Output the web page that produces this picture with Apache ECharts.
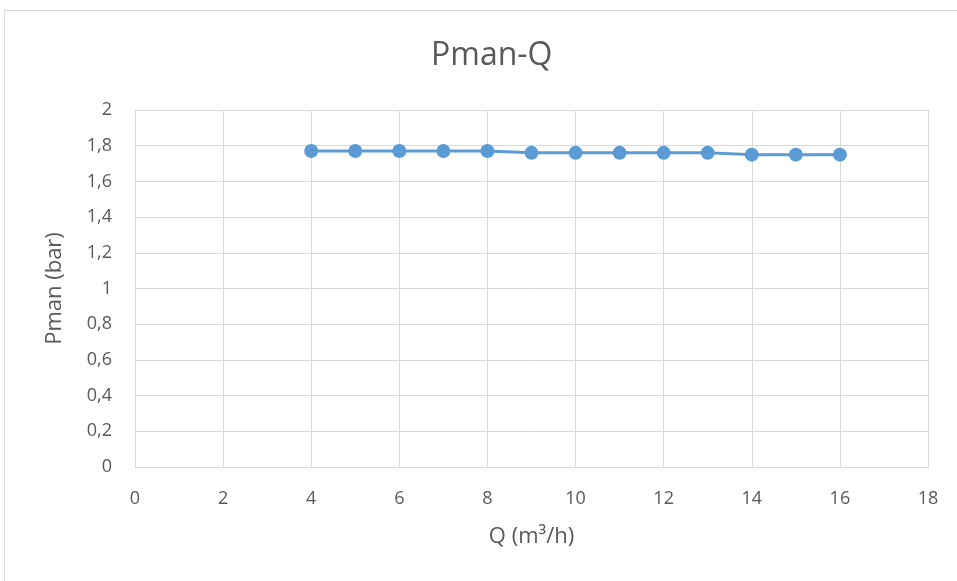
<!DOCTYPE html>
<html>
<head>
<meta charset="utf-8">
<script src="https://cdn.jsdelivr.net/npm/echarts@6/dist/echarts.min.js"></script>
<style>
  html, body { margin: 0; padding: 0; background: #fff; }
  #chart { width: 957px; height: 581px; }
</style>
</head>
<body>
<div id="chart"></div>
<script>
// Flow rate Q (m³/h) and manometric pressure (bar)
const flowQ = [4, 5, 6, 7, 8, 9, 10, 11, 12, 13, 14, 15, 16];
const pman = [1.77, 1.77, 1.77, 1.77, 1.77, 1.76, 1.76, 1.76, 1.76, 1.76, 1.75, 1.75, 1.75];

const titleText = 'Pman-Q';
const xAxisTitle = 'Q (m³/h)';
const yAxisTitle = 'Pman (bar)';

const font = '"Open Sans", "Liberation Sans", sans-serif';
const textColor = '#595959';
const gridColor = '#d9d9d9';

const chart = echarts.init(document.getElementById('chart'), null, { renderer: 'canvas' });

const commaFmt = v => String(v).replace('.', ',');

chart.setOption({
  animation: false,
  backgroundColor: '#fff',
  title: {
    text: titleText,
    left: 426,
    top: 35,
    textStyle: { fontFamily: font, fontSize: 32, fontWeight: 'normal', color: textColor }
  },
  graphic: [{
    type: 'rect',
    shape: { x: 4.5, y: 10.5, width: 1000, height: 1000 },
    style: { fill: 'none', stroke: gridColor, lineWidth: 1 },
    silent: true
  }],
  grid: { left: 135, right: 29, top: 110, bottom: 114 },
  xAxis: {
    type: 'value',
    min: 0, max: 18, interval: 2,
    name: xAxisTitle,
    nameLocation: 'middle',
    nameGap: 59,
    nameTextStyle: { fontFamily: font, fontSize: 22, color: textColor },
    axisLine: { show: true, lineStyle: { color: gridColor, width: 1 } },
    axisTick: { show: false },
    axisLabel: { fontFamily: font, fontSize: 18, color: textColor, margin: 23, formatter: commaFmt },
    splitLine: { show: true, lineStyle: { color: gridColor, width: 1 } }
  },
  yAxis: {
    type: 'value',
    min: 0, max: 2, interval: 0.2,
    name: yAxisTitle,
    nameLocation: 'middle',
    nameGap: 69,
    nameRotate: 90,
    nameTextStyle: { fontFamily: font, fontSize: 22, color: textColor },
    axisLine: { show: true, lineStyle: { color: gridColor, width: 1 } },
    axisTick: { show: false },
    axisLabel: { fontFamily: font, fontSize: 18, color: textColor, margin: 23, formatter: v => commaFmt(+v.toFixed(1)) },
    splitLine: { show: true, lineStyle: { color: gridColor, width: 1 } }
  },
  series: [{
    type: 'line',
    data: flowQ.map((q, i) => [q, pman[i]]),
    symbol: 'circle',
    symbolSize: 14,
    lineStyle: { color: '#5b9bd5', width: 3 },
    itemStyle: { color: '#5b9bd5' }
  }]
});
</script>
</body>
</html>
